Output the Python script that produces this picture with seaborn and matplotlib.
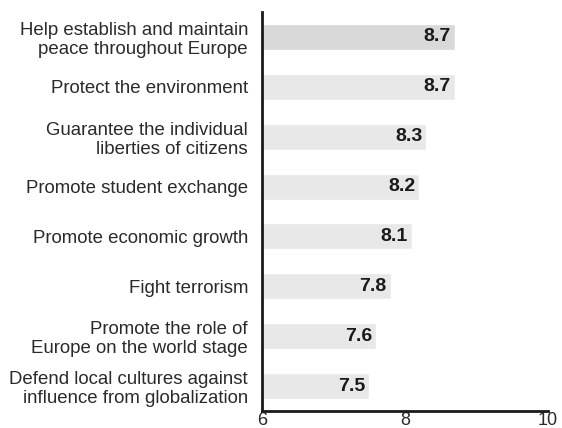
import matplotlib
matplotlib.use("Agg")
import matplotlib.pyplot as plt
import seaborn as sns
import pandas as pd

categories = [
    "Help establish and maintain\npeace throughout Europe",
    "Protect the environment",
    "Guarantee the individual\nliberties of citizens",
    "Promote student exchange",
    "Promote economic growth",
    "Fight terrorism",
    "Promote the role of\nEurope on the world stage",
    "Defend local cultures against\ninfluence from globalization",
]
scores = [8.7, 8.7, 8.3, 8.2, 8.1, 7.8, 7.6, 7.5]
x_ticks = [6, 8, 10]

df = pd.DataFrame({"goal": categories, "score": scores})

sns.set_style("white")
plt.rcParams["font.family"] = ["Liberation Sans", "DejaVu Sans"]

fig = plt.figure(figsize=(5.62, 4.28), dpi=100)
ax = fig.add_axes([262 / 562, 1 - 411 / 428, (548 - 262) / 562, (411 - 12) / 428])

palette = ["#d9d9d9"] + ["#e8e8e8"] * (len(categories) - 1)
sns.barplot(data=df, x="score", y="goal", hue="goal", palette=palette,
            legend=False, orient="h", width=0.52, ax=ax, saturation=1)

# bars start at the x-axis origin of 6
for patch, val in zip(ax.patches, scores):
    patch.set_x(6)
    patch.set_width(val - 6)
    y = patch.get_y() + patch.get_height() / 2
    ax.text(val - 0.06, y, f"{val:.1f}", ha="right", va="center",
            fontsize=14, fontweight="bold", color="#1a1a1a")

ax.set_xlim(6, 10)
ax.set_ylim(len(categories) - 0.5, -0.5)
ax.set_xticks(x_ticks)
ax.set_xticklabels([str(t) for t in x_ticks], fontsize=13, color="#2a2a2a")
ax.set_xlabel("")
ax.set_ylabel("")
ax.tick_params(axis="x", direction="in", length=8, width=2, color="#1a1a1a", pad=1)
ax.tick_params(axis="y", length=0, pad=10, labelsize=13.4, labelcolor="#2a2a2a")
for lbl in ax.get_yticklabels():
    lbl.set_linespacing(1.15)

for side in ("top", "right"):
    ax.spines[side].set_visible(False)
for side in ("left", "bottom"):
    ax.spines[side].set_color("#1a1a1a")
    ax.spines[side].set_linewidth(2)

fig.savefig("out.png", dpi=100)
